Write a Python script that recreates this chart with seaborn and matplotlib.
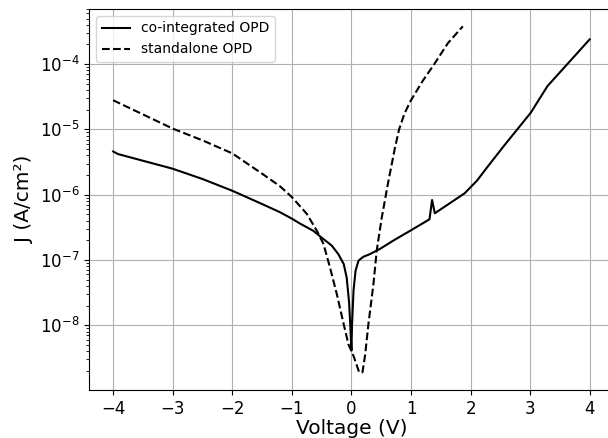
import matplotlib
matplotlib.use("Agg")
import matplotlib.pyplot as plt
import seaborn as sns
import pandas as pd

# co-integrated OPD (solid)
v_coint = [-4.0, -3.92, -3.0, -2.5, -2.0, -1.5, -1.2, -1.0, -0.86, -0.64, -0.5, -0.33, -0.22,
           -0.13, -0.08, -0.04, -0.02, 0.0, 0.01, 0.035, 0.07, 0.12, 0.2, 0.31, 0.48, 0.71,
           0.985, 1.31, 1.354, 1.40, 1.9, 2.11, 2.26, 2.56, 3.01, 3.29, 4.0]
j_coint = [4.6e-6, 4.2e-6, 2.5e-6, 1.74e-6, 1.15e-6, 7.2e-7, 5.4e-7, 4.3e-7, 3.6e-7, 2.8e-7, 2.2e-7, 1.66e-7, 1.23e-7,
           8.7e-8, 5.4e-8, 2.3e-8, 1.04e-8, 4.1e-9, 1.0e-8, 3.4e-8, 6.9e-8, 9.8e-8, 1.12e-7, 1.23e-7, 1.48e-7, 2.0e-7,
           2.8e-7, 4.2e-7, 8.3e-7, 5.2e-7, 1.05e-6, 1.65e-6, 2.5e-6, 5.6e-6, 1.8e-5, 4.6e-5, 2.4e-4]

# standalone OPD (dashed)
v_stand = [-4.0, -3.0, -2.5, -2.0, -1.5, -1.2, -1.0, -0.75, -0.58, -0.47, -0.36, -0.245, -0.13,
           -0.05, 0.035, 0.13, 0.185, 0.23, 0.285, 0.37, 0.425, 0.51, 0.62, 0.73, 0.8, 0.89, 1.0,
           1.2, 1.39, 1.62, 1.87]
j_stand = [2.8e-5, 1.03e-5, 6.8e-6, 4.3e-6, 2.1e-6, 1.35e-6, 9.2e-7, 5.1e-7, 2.8e-7, 1.77e-7, 7.7e-8, 3.0e-8, 1.04e-8,
           5.1e-9, 3.4e-9, 1.9e-9, 1.9e-9, 3.5e-9, 1.04e-8, 4.3e-8, 1.4e-7, 4.5e-7, 1.6e-6, 5.2e-6, 1.0e-5, 1.75e-5, 2.8e-5,
           5.6e-5, 1.0e-4, 2.1e-4, 3.8e-4]

df1 = pd.DataFrame({"V": v_coint, "J": j_coint})
df2 = pd.DataFrame({"V": v_stand, "J": j_stand})

fig = plt.figure(figsize=(6.08, 4.38), dpi=100)
ax = fig.add_axes([0.1469, 0.1096, 0.8622, 0.8699])

sns.lineplot(data=df1, x="V", y="J", ax=ax, color="black", linewidth=1.5,
             label="co-integrated OPD")
sns.lineplot(data=df2, x="V", y="J", ax=ax, color="black", linewidth=1.5,
             linestyle="--", label="standalone OPD")

ax.set_yscale("log")
ax.set_xlim(-4.4, 4.4)
ax.set_ylim(1.02e-9, 7.0e-4)
ax.set_yticks([1e-8, 1e-7, 1e-6, 1e-5, 1e-4])
ax.set_xticks([-4, -3, -2, -1, 0, 1, 2, 3, 4])
ax.grid(True, which="major", color="#b0b0b0", linewidth=0.8)
ax.tick_params(labelsize=12)
ax.set_xlabel("Voltage (V)", fontsize=14.5, labelpad=1)
ax.set_ylabel("J (A/cm²)", fontsize=14.5)
ax.legend(loc="upper left", fontsize=10)

fig.savefig("out.png", dpi=100)
